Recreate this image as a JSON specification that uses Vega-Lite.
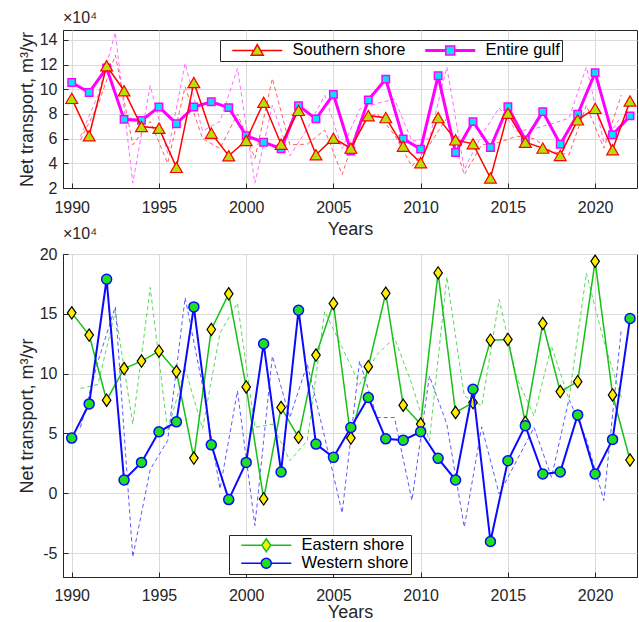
{
  "$schema": "https://vega.github.io/schema/vega-lite/v6.json",
  "padding": {"left": 17, "top": 9, "right": 0, "bottom": 0},
  "background": "white",
  "spacing": -14,
  "resolve": {"scale": {"fill": "independent", "stroke": "independent", "shape": "independent"}, "legend": {"fill": "independent", "stroke": "independent", "shape": "independent"}},
  "config": {
    "font": "Liberation Sans",
    "view": {"stroke": "#262626", "strokeWidth": 1},
    "axis": {"labelFontSize": 16, "titleFontSize": 18, "titleFontWeight": "normal", "labelColor": "#262626", "titleColor": "#262626", "domainColor": "#262626", "tickColor": "#262626", "gridColor": "#dadada", "tickSize": -5, "labelFont": "Liberation Sans", "titleFont": "Liberation Sans"},
    "axisX": {"labelPadding": 16, "titlePadding": 5},
    "axisY": {"labelPadding": 11, "titlePadding": 3},
    "title": {"fontSize": 16, "fontWeight": "normal", "color": "#262626", "anchor": "start", "frame": "group", "offset": 0, "font": "Liberation Sans"},
    "legend": {"labelFont": "Liberation Sans"}
  },
  "datasets": {
    "top": [
      {"year":1990,"value":92600,"series":"Southern shore"},{"year":1991,"value":62300,"series":"Southern shore"},{"year":1992,"value":119000,"series":"Southern shore"},{"year":1993,"value":98800,"series":"Southern shore"},{"year":1994,"value":69800,"series":"Southern shore"},{"year":1995,"value":68400,"series":"Southern shore"},{"year":1996,"value":36700,"series":"Southern shore"},{"year":1997,"value":105500,"series":"Southern shore"},{"year":1998,"value":64400,"series":"Southern shore"},{"year":1999,"value":46100,"series":"Southern shore"},{"year":2000,"value":58500,"series":"Southern shore"},{"year":2001,"value":89400,"series":"Southern shore"},{"year":2002,"value":55500,"series":"Southern shore"},{"year":2003,"value":82900,"series":"Southern shore"},{"year":2004,"value":46900,"series":"Southern shore"},{"year":2005,"value":60300,"series":"Southern shore"},{"year":2006,"value":52300,"series":"Southern shore"},{"year":2007,"value":78600,"series":"Southern shore"},{"year":2008,"value":77000,"series":"Southern shore"},{"year":2009,"value":53900,"series":"Southern shore"},{"year":2010,"value":40500,"series":"Southern shore"},{"year":2011,"value":77000,"series":"Southern shore"},{"year":2012,"value":59000,"series":"Southern shore"},{"year":2013,"value":55800,"series":"Southern shore"},{"year":2014,"value":28100,"series":"Southern shore"},{"year":2015,"value":80500,"series":"Southern shore"},{"year":2016,"value":57100,"series":"Southern shore"},{"year":2017,"value":52300,"series":"Southern shore"},{"year":2018,"value":46400,"series":"Southern shore"},{"year":2019,"value":75200,"series":"Southern shore"},{"year":2020,"value":84500,"series":"Southern shore"},{"year":2021,"value":51000,"series":"Southern shore"},{"year":2022,"value":90500,"series":"Southern shore"},
      {"year":1990,"value":105500,"series":"Entire gulf"},{"year":1991,"value":97400,"series":"Entire gulf"},{"year":1992,"value":117300,"series":"Entire gulf"},{"year":1993,"value":75600,"series":"Entire gulf"},{"year":1994,"value":74800,"series":"Entire gulf"},{"year":1995,"value":85600,"series":"Entire gulf"},{"year":1996,"value":72100,"series":"Entire gulf"},{"year":1997,"value":85600,"series":"Entire gulf"},{"year":1998,"value":89900,"series":"Entire gulf"},{"year":1999,"value":85100,"series":"Entire gulf"},{"year":2000,"value":62300,"series":"Entire gulf"},{"year":2001,"value":57100,"series":"Entire gulf"},{"year":2002,"value":51800,"series":"Entire gulf"},{"year":2003,"value":86700,"series":"Entire gulf"},{"year":2004,"value":76000,"series":"Entire gulf"},{"year":2005,"value":95800,"series":"Entire gulf"},{"year":2006,"value":50000,"series":"Entire gulf"},{"year":2007,"value":91300,"series":"Entire gulf"},{"year":2008,"value":108200,"series":"Entire gulf"},{"year":2009,"value":59800,"series":"Entire gulf"},{"year":2010,"value":51500,"series":"Entire gulf"},{"year":2011,"value":110900,"series":"Entire gulf"},{"year":2012,"value":48800,"series":"Entire gulf"},{"year":2013,"value":73800,"series":"Entire gulf"},{"year":2014,"value":52800,"series":"Entire gulf"},{"year":2015,"value":85900,"series":"Entire gulf"},{"year":2016,"value":59000,"series":"Entire gulf"},{"year":2017,"value":81900,"series":"Entire gulf"},{"year":2018,"value":55500,"series":"Entire gulf"},{"year":2019,"value":79700,"series":"Entire gulf"},{"year":2020,"value":113500,"series":"Entire gulf"},{"year":2021,"value":63100,"series":"Entire gulf"},{"year":2022,"value":78400,"series":"Entire gulf"},
      {"year":1990.5,"value":61700,"series":"Entire gulf (dashed)"},{"year":1991.5,"value":95000,"series":"Entire gulf (dashed)"},{"year":1992.5,"value":146000,"series":"Entire gulf (dashed)"},{"year":1993.5,"value":24000,"series":"Entire gulf (dashed)"},{"year":1994.5,"value":103000,"series":"Entire gulf (dashed)"},{"year":1995.5,"value":48000,"series":"Entire gulf (dashed)"},{"year":1996.5,"value":121000,"series":"Entire gulf (dashed)"},{"year":1997.5,"value":66000,"series":"Entire gulf (dashed)"},{"year":1998.5,"value":74000,"series":"Entire gulf (dashed)"},{"year":1999.5,"value":117000,"series":"Entire gulf (dashed)"},{"year":2000.5,"value":24000,"series":"Entire gulf (dashed)"},{"year":2001.5,"value":87000,"series":"Entire gulf (dashed)"},{"year":2002.5,"value":46000,"series":"Entire gulf (dashed)"},{"year":2003.5,"value":68000,"series":"Entire gulf (dashed)"},{"year":2004.5,"value":95000,"series":"Entire gulf (dashed)"},{"year":2005.5,"value":52000,"series":"Entire gulf (dashed)"},{"year":2006.5,"value":84000,"series":"Entire gulf (dashed)"},{"year":2007.5,"value":88500,"series":"Entire gulf (dashed)"},{"year":2008.5,"value":92000,"series":"Entire gulf (dashed)"},{"year":2009.5,"value":58000,"series":"Entire gulf (dashed)"},{"year":2010.5,"value":60000,"series":"Entire gulf (dashed)"},{"year":2011.5,"value":118000,"series":"Entire gulf (dashed)"},{"year":2012.5,"value":35000,"series":"Entire gulf (dashed)"},{"year":2013.5,"value":63000,"series":"Entire gulf (dashed)"},{"year":2014.5,"value":85000,"series":"Entire gulf (dashed)"},{"year":2015.5,"value":66000,"series":"Entire gulf (dashed)"},{"year":2016.5,"value":68000,"series":"Entire gulf (dashed)"},{"year":2017.5,"value":72000,"series":"Entire gulf (dashed)"},{"year":2018.5,"value":76500,"series":"Entire gulf (dashed)"},{"year":2019.5,"value":118000,"series":"Entire gulf (dashed)"},{"year":2020.5,"value":57000,"series":"Entire gulf (dashed)"},{"year":2021.5,"value":78000,"series":"Entire gulf (dashed)"},
      {"year":1990.5,"value":59000,"series":"Southern shore (dashed)"},{"year":1991.5,"value":87000,"series":"Southern shore (dashed)"},{"year":1992.5,"value":127600,"series":"Southern shore (dashed)"},{"year":1993.5,"value":55000,"series":"Southern shore (dashed)"},{"year":1994.5,"value":74000,"series":"Southern shore (dashed)"},{"year":1995.5,"value":40000,"series":"Southern shore (dashed)"},{"year":1996.5,"value":102000,"series":"Southern shore (dashed)"},{"year":1997.5,"value":60000,"series":"Southern shore (dashed)"},{"year":1998.5,"value":52000,"series":"Southern shore (dashed)"},{"year":1999.5,"value":80000,"series":"Southern shore (dashed)"},{"year":2000.5,"value":44000,"series":"Southern shore (dashed)"},{"year":2001.5,"value":108700,"series":"Southern shore (dashed)"},{"year":2002.5,"value":55000,"series":"Southern shore (dashed)"},{"year":2003.5,"value":55500,"series":"Southern shore (dashed)"},{"year":2004.5,"value":67000,"series":"Southern shore (dashed)"},{"year":2005.5,"value":30800,"series":"Southern shore (dashed)"},{"year":2006.5,"value":73800,"series":"Southern shore (dashed)"},{"year":2007.5,"value":80500,"series":"Southern shore (dashed)"},{"year":2008.5,"value":63000,"series":"Southern shore (dashed)"},{"year":2009.5,"value":37500,"series":"Southern shore (dashed)"},{"year":2010.5,"value":55000,"series":"Southern shore (dashed)"},{"year":2011.5,"value":76500,"series":"Southern shore (dashed)"},{"year":2012.5,"value":30800,"series":"Southern shore (dashed)"},{"year":2013.5,"value":55000,"series":"Southern shore (dashed)"},{"year":2014.5,"value":57000,"series":"Southern shore (dashed)"},{"year":2015.5,"value":62000,"series":"Southern shore (dashed)"},{"year":2016.5,"value":60000,"series":"Southern shore (dashed)"},{"year":2017.5,"value":49600,"series":"Southern shore (dashed)"},{"year":2018.5,"value":47000,"series":"Southern shore (dashed)"},{"year":2019.5,"value":87000,"series":"Southern shore (dashed)"},{"year":2020.5,"value":52300,"series":"Southern shore (dashed)"},{"year":2021.5,"value":95300,"series":"Southern shore (dashed)"}
    ],
    "bottom": [
      {"year":1990,"value":150800,"series":"Eastern shore"},{"year":1991,"value":132200,"series":"Eastern shore"},{"year":1992,"value":77800,"series":"Eastern shore"},{"year":1993,"value":104200,"series":"Eastern shore"},{"year":1994,"value":110500,"series":"Eastern shore"},{"year":1995,"value":118800,"series":"Eastern shore"},{"year":1996,"value":101700,"series":"Eastern shore"},{"year":1997,"value":29400,"series":"Eastern shore"},{"year":1998,"value":136900,"series":"Eastern shore"},{"year":1999,"value":166700,"series":"Eastern shore"},{"year":2000,"value":88900,"series":"Eastern shore"},{"year":2001,"value":-4700,"series":"Eastern shore"},{"year":2002,"value":71700,"series":"Eastern shore"},{"year":2003,"value":46700,"series":"Eastern shore"},{"year":2004,"value":115500,"series":"Eastern shore"},{"year":2005,"value":158600,"series":"Eastern shore"},{"year":2006,"value":46100,"series":"Eastern shore"},{"year":2007,"value":105800,"series":"Eastern shore"},{"year":2008,"value":167200,"series":"Eastern shore"},{"year":2009,"value":73600,"series":"Eastern shore"},{"year":2010,"value":57800,"series":"Eastern shore"},{"year":2011,"value":184200,"series":"Eastern shore"},{"year":2012,"value":67500,"series":"Eastern shore"},{"year":2013,"value":75800,"series":"Eastern shore"},{"year":2014,"value":128000,"series":"Eastern shore"},{"year":2015,"value":128600,"series":"Eastern shore"},{"year":2016,"value":59200,"series":"Eastern shore"},{"year":2017,"value":141900,"series":"Eastern shore"},{"year":2018,"value":85000,"series":"Eastern shore"},{"year":2019,"value":93300,"series":"Eastern shore"},{"year":2020,"value":193900,"series":"Eastern shore"},{"year":2021,"value":82200,"series":"Eastern shore"},{"year":2022,"value":27800,"series":"Eastern shore"},
      {"year":1990,"value":46100,"series":"Western shore"},{"year":1991,"value":74700,"series":"Western shore"},{"year":1992,"value":178900,"series":"Western shore"},{"year":1993,"value":11100,"series":"Western shore"},{"year":1994,"value":25800,"series":"Western shore"},{"year":1995,"value":51400,"series":"Western shore"},{"year":1996,"value":59700,"series":"Western shore"},{"year":1997,"value":155800,"series":"Western shore"},{"year":1998,"value":40500,"series":"Western shore"},{"year":1999,"value":-5300,"series":"Western shore"},{"year":2000,"value":25800,"series":"Western shore"},{"year":2001,"value":125000,"series":"Western shore"},{"year":2002,"value":17800,"series":"Western shore"},{"year":2003,"value":153000,"series":"Western shore"},{"year":2004,"value":41100,"series":"Western shore"},{"year":2005,"value":30000,"series":"Western shore"},{"year":2006,"value":55000,"series":"Western shore"},{"year":2007,"value":80000,"series":"Western shore"},{"year":2008,"value":45500,"series":"Western shore"},{"year":2009,"value":44400,"series":"Western shore"},{"year":2010,"value":51400,"series":"Western shore"},{"year":2011,"value":29200,"series":"Western shore"},{"year":2012,"value":11100,"series":"Western shore"},{"year":2013,"value":86900,"series":"Western shore"},{"year":2014,"value":-40300,"series":"Western shore"},{"year":2015,"value":27200,"series":"Western shore"},{"year":2016,"value":56400,"series":"Western shore"},{"year":2017,"value":16100,"series":"Western shore"},{"year":2018,"value":17800,"series":"Western shore"},{"year":2019,"value":65500,"series":"Western shore"},{"year":2020,"value":16100,"series":"Western shore"},{"year":2021,"value":45000,"series":"Western shore"},{"year":2022,"value":146100,"series":"Western shore"},
      {"year":1990.5,"value":87500,"series":"Eastern shore (dashed)"},{"year":1991.5,"value":91000,"series":"Eastern shore (dashed)"},{"year":1992.5,"value":152000,"series":"Eastern shore (dashed)"},{"year":1993.5,"value":57800,"series":"Eastern shore (dashed)"},{"year":1994.5,"value":172000,"series":"Eastern shore (dashed)"},{"year":1995.5,"value":52000,"series":"Eastern shore (dashed)"},{"year":1996.5,"value":104000,"series":"Eastern shore (dashed)"},{"year":1997.5,"value":54000,"series":"Eastern shore (dashed)"},{"year":1998.5,"value":134000,"series":"Eastern shore (dashed)"},{"year":1999.5,"value":159000,"series":"Eastern shore (dashed)"},{"year":2000.5,"value":55000,"series":"Eastern shore (dashed)"},{"year":2001.5,"value":57800,"series":"Eastern shore (dashed)"},{"year":2002.5,"value":27200,"series":"Eastern shore (dashed)"},{"year":2003.5,"value":43900,"series":"Eastern shore (dashed)"},{"year":2004.5,"value":152000,"series":"Eastern shore (dashed)"},{"year":2005.5,"value":122000,"series":"Eastern shore (dashed)"},{"year":2006.5,"value":91000,"series":"Eastern shore (dashed)"},{"year":2007.5,"value":116000,"series":"Eastern shore (dashed)"},{"year":2008.5,"value":130000,"series":"Eastern shore (dashed)"},{"year":2009.5,"value":91000,"series":"Eastern shore (dashed)"},{"year":2010.5,"value":43900,"series":"Eastern shore (dashed)"},{"year":2011.5,"value":181000,"series":"Eastern shore (dashed)"},{"year":2012.5,"value":81400,"series":"Eastern shore (dashed)"},{"year":2013.5,"value":73000,"series":"Eastern shore (dashed)"},{"year":2014.5,"value":162000,"series":"Eastern shore (dashed)"},{"year":2015.5,"value":96700,"series":"Eastern shore (dashed)"},{"year":2016.5,"value":64700,"series":"Eastern shore (dashed)"},{"year":2017.5,"value":123000,"series":"Eastern shore (dashed)"},{"year":2018.5,"value":78600,"series":"Eastern shore (dashed)"},{"year":2019.5,"value":184000,"series":"Eastern shore (dashed)"},{"year":2020.5,"value":127000,"series":"Eastern shore (dashed)"},{"year":2021.5,"value":80000,"series":"Eastern shore (dashed)"},
      {"year":1990.5,"value":55000,"series":"Western shore (dashed)"},{"year":1991.5,"value":110000,"series":"Western shore (dashed)"},{"year":1992.5,"value":156000,"series":"Western shore (dashed)"},{"year":1993.5,"value":-53300,"series":"Western shore (dashed)"},{"year":1994.5,"value":20000,"series":"Western shore (dashed)"},{"year":1995.5,"value":44000,"series":"Western shore (dashed)"},{"year":1996.5,"value":163500,"series":"Western shore (dashed)"},{"year":1997.5,"value":89700,"series":"Western shore (dashed)"},{"year":1998.5,"value":3600,"series":"Western shore (dashed)"},{"year":1999.5,"value":85600,"series":"Western shore (dashed)"},{"year":2000.5,"value":-27000,"series":"Western shore (dashed)"},{"year":2001.5,"value":114700,"series":"Western shore (dashed)"},{"year":2002.5,"value":63300,"series":"Western shore (dashed)"},{"year":2003.5,"value":108000,"series":"Western shore (dashed)"},{"year":2004.5,"value":46700,"series":"Western shore (dashed)"},{"year":2005.5,"value":-16500,"series":"Western shore (dashed)"},{"year":2006.5,"value":110500,"series":"Western shore (dashed)"},{"year":2007.5,"value":63300,"series":"Western shore (dashed)"},{"year":2008.5,"value":63300,"series":"Western shore (dashed)"},{"year":2009.5,"value":-6000,"series":"Western shore (dashed)"},{"year":2010.5,"value":98000,"series":"Western shore (dashed)"},{"year":2011.5,"value":57800,"series":"Western shore (dashed)"},{"year":2012.5,"value":-28300,"series":"Western shore (dashed)"},{"year":2013.5,"value":55500,"series":"Western shore (dashed)"},{"year":2014.5,"value":-600,"series":"Western shore (dashed)"},{"year":2015.5,"value":27200,"series":"Western shore (dashed)"},{"year":2016.5,"value":55000,"series":"Western shore (dashed)"},{"year":2017.5,"value":13300,"series":"Western shore (dashed)"},{"year":2018.5,"value":78600,"series":"Western shore (dashed)"},{"year":2019.5,"value":45000,"series":"Western shore (dashed)"},{"year":2020.5,"value":-6000,"series":"Western shore (dashed)"},{"year":2021.5,"value":137000,"series":"Western shore (dashed)"}
    ]
  },
  "vconcat": [
    {
      "width": 574,
      "height": 158,
      "title": {"text": "×10⁴"},
      "data": {"name": "top"},
      "encoding": {
        "x": {"field": "year", "type": "quantitative", "scale": {"domain": [1989.5, 2022.4], "nice": false, "zero": false}, "axis": {"values": [1990, 1995, 2000, 2005, 2010, 2015, 2020], "format": "d", "title": "Years", "grid": true}},
        "y": {"field": "value", "type": "quantitative", "scale": {"domain": [20000, 148000], "nice": false, "zero": false}, "axis": {"values": [20000, 40000, 60000, 80000, 100000, 120000, 140000], "labelExpr": "datum.value / 10000", "title": "Net transport, m³/yr", "grid": true}}
      },
      "layer": [
        {"transform": [{"filter": "datum.series === 'Entire gulf (dashed)'"}], "mark": {"type": "line", "color": "#ff6bff", "strokeWidth": 1, "strokeDash": [4, 3]}},
        {"transform": [{"filter": "datum.series === 'Southern shore (dashed)'"}], "mark": {"type": "line", "color": "#ff6060", "strokeWidth": 1, "strokeDash": [4, 3]}},
        {"transform": [{"filter": "datum.series === 'Entire gulf'"}], "mark": {"type": "line", "color": "#ff00ff", "strokeWidth": 3}},
        {"transform": [{"filter": "datum.series === 'Entire gulf'"}], "mark": {"type": "point", "shape": "square", "filled": true, "fill": "#00e5ff", "stroke": "#ff00ff", "strokeWidth": 1.5, "size": 55, "opacity": 1}},
        {"transform": [{"filter": "datum.series === 'Southern shore'"}], "mark": {"type": "line", "color": "#ff0000", "strokeWidth": 1.5}},
        {"transform": [{"filter": "datum.series === 'Southern shore'"}], "mark": {"type": "point", "shape": "triangle-up", "filled": true, "fill": "#b4e10a", "stroke": "#ff0000", "strokeWidth": 1.2, "size": 140, "opacity": 1}},
        {
          "transform": [{"filter": "false"}],
          "mark": {"type": "point", "filled": true, "opacity": 1, "strokeWidth": 1.5},
          "encoding": {
            "fill": {"field": "series", "type": "nominal", "scale": {"domain": ["Southern shore", "Entire gulf"], "range": ["#b4e10a", "#00e5ff"]},
              "legend": {"title": null, "orient": "none", "legendX": 157, "legendY": 10, "direction": "horizontal", "labelFontSize": 16.5, "labelColor": "#000000", "symbolSize": 100, "symbolStrokeWidth": 1.5, "symbolOffset": 27, "labelOffset": 27, "padding": 2, "strokeColor": "#262626", "fillColor": "#ffffff", "columnPadding": 9, "rowPadding": 0, "labelLimit": 400}},
            "stroke": {"field": "series", "type": "nominal", "scale": {"domain": ["Southern shore", "Entire gulf"], "range": ["#ff0000", "#ff00ff"]}},
            "shape": {"field": "series", "type": "nominal", "scale": {"domain": ["Southern shore", "Entire gulf"], "range": ["M-5,0H-0.7M0.7,0H5M0,-1.15L1.2,0.95L-1.2,0.95Z", "M-5,-0.15H-0.9M-5,0.15H-0.9M0.9,-0.15H5M0.9,0.15H5M-0.9,-0.9H0.9V0.9H-0.9Z"]}}
          }
        }
      ]
    },
    {
      "width": 574,
      "height": 323,
      "title": {"text": "×10⁴"},
      "data": {"name": "bottom"},
      "encoding": {
        "x": {"field": "year", "type": "quantitative", "scale": {"domain": [1989.5, 2022.4], "nice": false, "zero": false}, "axis": {"values": [1990, 1995, 2000, 2005, 2010, 2015, 2020], "format": "d", "title": "Years", "grid": true, "labelPadding": 15, "titlePadding": 0}},
        "y": {"field": "value", "type": "quantitative", "scale": {"domain": [-70000, 200000], "nice": false, "zero": false}, "axis": {"values": [-50000, 0, 50000, 100000, 150000, 200000], "labelExpr": "datum.value / 10000", "title": "Net transport, m³/yr", "grid": true}}
      },
      "layer": [
        {"mark": {"type": "rule", "color": "#ff9a9a", "strokeWidth": 5}, "encoding": {"y": {"datum": 0}}},
        {"transform": [{"filter": "datum.series === 'Eastern shore (dashed)'"}], "mark": {"type": "line", "color": "#5ad85a", "strokeWidth": 1, "strokeDash": [4, 3]}},
        {"transform": [{"filter": "datum.series === 'Western shore (dashed)'"}], "mark": {"type": "line", "color": "#5a5aff", "strokeWidth": 1, "strokeDash": [4, 3]}},
        {"transform": [{"filter": "datum.series === 'Eastern shore'"}], "mark": {"type": "line", "color": "#16c016", "strokeWidth": 1.5}},
        {"transform": [{"filter": "datum.series === 'Eastern shore'"}], "mark": {"type": "point", "shape": "M0,-1.3L0.9,0L0,1.3L-0.9,0Z", "filled": true, "fill": "#ffee00", "stroke": "#000000", "strokeWidth": 1.2, "size": 90, "opacity": 1}},
        {"transform": [{"filter": "datum.series === 'Western shore'"}], "mark": {"type": "line", "color": "#0a0aff", "strokeWidth": 2}},
        {"transform": [{"filter": "datum.series === 'Western shore'"}], "mark": {"type": "point", "shape": "circle", "filled": true, "fill": "#1ee01e", "stroke": "#0a0aff", "strokeWidth": 1.5, "size": 100, "opacity": 1}},
        {
          "transform": [{"filter": "false"}],
          "mark": {"type": "point", "filled": true, "opacity": 1, "strokeWidth": 1.5},
          "encoding": {
            "fill": {"field": "series", "type": "nominal", "scale": {"domain": ["Eastern shore", "Western shore"], "range": ["#ffee00", "#1ee01e"]},
              "legend": {"title": null, "orient": "none", "legendX": 166, "legendY": 281, "direction": "vertical", "labelFontSize": 16.5, "labelColor": "#000000", "symbolSize": 100, "symbolStrokeWidth": 1.5, "symbolOffset": 27, "labelOffset": 27, "padding": 2, "strokeColor": "#262626", "fillColor": "#ffffff", "rowPadding": 0, "labelLimit": 400}},
            "stroke": {"field": "series", "type": "nominal", "scale": {"domain": ["Eastern shore", "Western shore"], "range": ["#16c016", "#0a0aff"]}},
            "shape": {"field": "series", "type": "nominal", "scale": {"domain": ["Eastern shore", "Western shore"], "range": ["M-5,0H-0.9M0.9,0H5M0,-1.3L0.9,0L0,1.3L-0.9,0Z", "M-5,0H-1M1,0H5M1,0A1,1,0,1,1,-1,0A1,1,0,1,1,1,0Z"]}}
          }
        }
      ]
    }
  ]
}
